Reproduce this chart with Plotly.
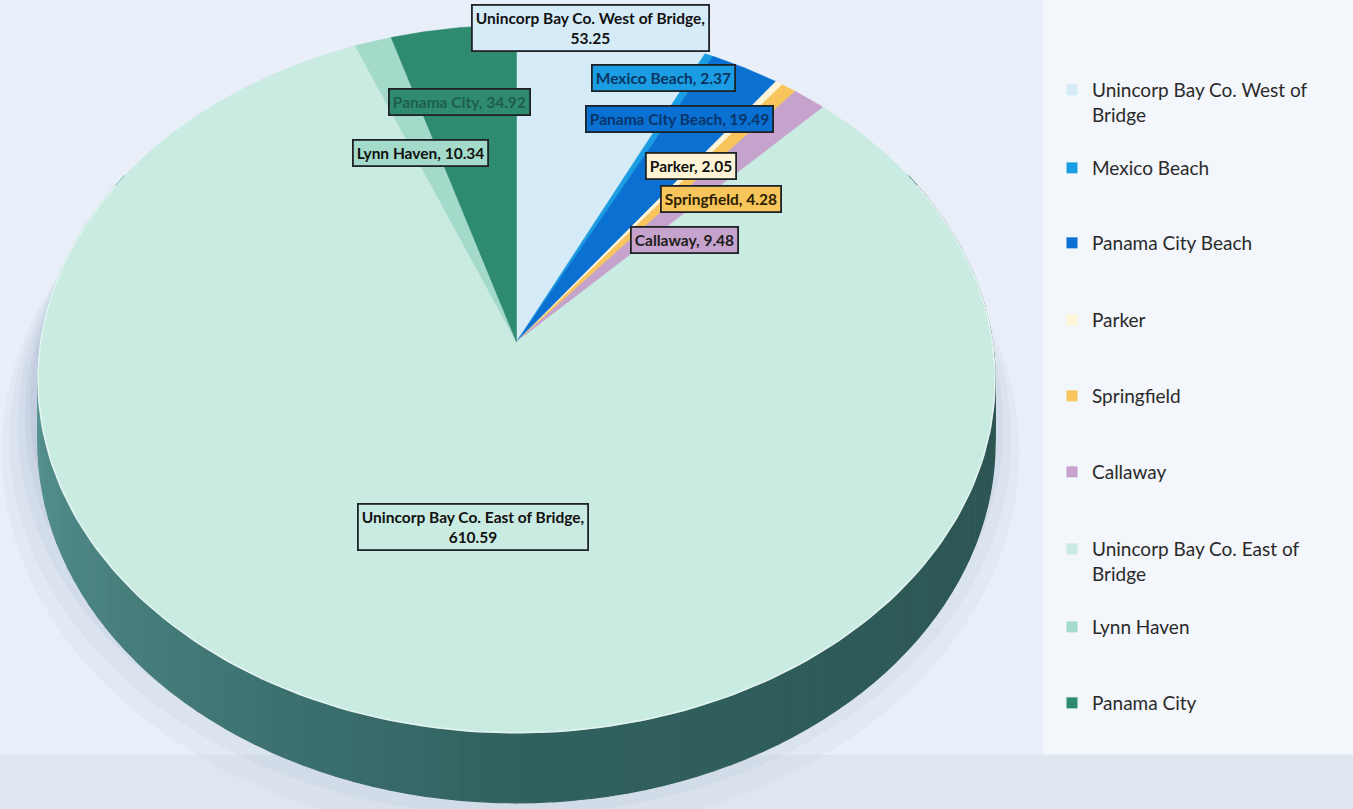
import numpy as np
import plotly.graph_objects as go

# Acreage by municipality (clockwise from 12 o'clock)
municipalities = [
    "Unincorp Bay Co. West of Bridge",
    "Mexico Beach",
    "Panama City Beach",
    "Parker",
    "Springfield",
    "Callaway",
    "Unincorp Bay Co. East of Bridge",
    "Lynn Haven",
    "Panama City",
]
acreage = [53.25, 2.37, 19.49, 2.05, 4.28, 9.48, 610.59, 10.34, 34.92]
legend_labels = [
    "Unincorp Bay Co. West of<br>Bridge",
    "Mexico Beach",
    "Panama City Beach",
    "Parker",
    "Springfield",
    "Callaway",
    "Unincorp Bay Co. East of<br>Bridge",
    "Lynn Haven",
    "Panama City",
]

slice_colors = ["#D6EBF8", "#1A9DE2", "#0A70D2", "#FFF4D6", "#F8C45C",
                "#C6A3CC", "#CAEBE1", "#A3DACA", "#2E8B70"]
label_text_colors = ["#111111", "#0A3562", "#08356A", "#111111", "#2B2100",
                     "#1E1E1E", "#111111", "#111111", "#1F5E4C"]
# label box centres in pixel space
label_anchor = [(590, 28), (663, 78), (679, 119), (691, 166), (721, 199),
                (684, 240), (473, 527), (420, 153), (459, 102)]
legend_line_y = [90, 168, 243, 320, 396, 472, 549, 627, 703]

W, H = 1353, 809
CX, CY = 516.5, 342.0      # projected pie centre
RX, RY, PERSP = 476.0, 350.0, 0.1045
DEPTH = 70.0


def project(theta_deg, drop=0.0):
    t = np.radians(theta_deg)
    X, Y = np.sin(t), -np.cos(t)
    den = 1.0 - PERSP * Y
    x = CX + RX * X / den
    y = CY + RY * Y / den + drop * (1.0 - PERSP) / den
    return x, y


fig = go.Figure()

# soft drop shadow under the pie
ang = np.linspace(0, 360, 361)
for grow, dy, alpha in [(30, 70, 0.05), (22, 58, 0.06), (14, 46, 0.07),
                        (7, 36, 0.08), (2, 28, 0.08)]:
    sx, sy = project(ang)
    sx = CX + (sx - CX) * (1 + grow / RX) - 6
    sy = CY + (sy - CY) * (1 + grow / RY) + dy
    fig.add_trace(go.Scatter(x=sx, y=sy, fill="toself", mode="none",
                             fillcolor=f"rgba(110,128,170,{alpha})",
                             hoverinfo="skip", showlegend=False))


# side wall of the pie, shaded from left (lighter) to right (darker)
def side_color(theta):
    # theta 90 = right, 180 = front, 270 = left
    s = (theta - 60) / 240.0
    c_right = np.array([0x2A, 0x4E, 0x4C])
    c_mid = np.array([0x31, 0x62, 0x60])
    c_left = np.array([0x66, 0xA8, 0xA6])
    if s < 0.5:
        c = c_right + (c_mid - c_right) * (s / 0.5)
    else:
        c = c_mid + (c_left - c_mid) * ((s - 0.5) / 0.5)
    return "rgb(%d,%d,%d)" % tuple(c.astype(int))


step = 2
for a0 in range(60, 300, step):
    seg = np.linspace(a0, a0 + step, 4)
    tx, ty = project(seg)
    bx, by = project(seg[::-1], drop=DEPTH)
    col = side_color(a0 + step / 2)
    fig.add_trace(go.Scatter(x=np.r_[tx, bx], y=np.r_[ty, by], fill="toself",
                             mode="lines", line=dict(color=col, width=1.2),
                             fillcolor=col, hoverinfo="skip", showlegend=False))

# top face wedges
total = float(np.sum(acreage))
bounds = np.r_[0.0, np.cumsum(acreage)] / total * 360.0
for i, name in enumerate(municipalities):
    a0, a1 = bounds[i], bounds[i + 1]
    n = max(int((a1 - a0) * 3), 4)
    th = np.linspace(a0, a1, n)
    rx, ry = project(th)
    fig.add_trace(go.Scatter(
        x=np.r_[CX, rx, CX], y=np.r_[CY, ry, CY], fill="toself",
        mode="lines", line=dict(color=slice_colors[i], width=0.5),
        fillcolor=slice_colors[i], name=name, showlegend=False,
        hovertemplate=f"{name}: {acreage[i]:.2f}<extra></extra>"))

# light rim along the front edge
rim = np.linspace(62, 298, 200)
rx, ry = project(rim)
fig.add_trace(go.Scatter(x=rx, y=ry, mode="lines",
                         line=dict(color="rgba(240,250,248,0.85)", width=1.5),
                         hoverinfo="skip", showlegend=False))

# legend entries (one legend per entry so each row sits at its own height)
layout_legends = {}
for i, lab in enumerate(legend_labels):
    key = "legend" if i == 0 else f"legend{i + 1}"
    fig.add_trace(go.Scatter(
        x=[None], y=[None], mode="markers", name=lab, legend=key,
        marker=dict(symbol="square", size=11, color=slice_colors[i]),
        showlegend=True))
    layout_legends[key] = dict(
        x=1052 / W, xanchor="left",
        y=1 - (legend_line_y[i] - 19) / H, yanchor="top",
        bgcolor="rgba(0,0,0,0)", borderwidth=0, valign="top",
        itemwidth=30,
        font=dict(family="Lato", size=19, color="#2A2A2A"))

# data labels
annotations = []
for i, name in enumerate(municipalities):
    sep = ",<br>" if len(name) > 20 else ", "
    ax, ay = label_anchor[i]
    annotations.append(dict(
        x=ax, y=ay, xref="x", yref="y", showarrow=False,
        text=f"<b>{name}{sep}{acreage[i]:.2f}</b>",
        font=dict(family="Lato", size=15.5, color=label_text_colors[i]),
        bgcolor=slice_colors[i], bordercolor="#1F2326", borderwidth=1.8,
        borderpad=3, align="center"))

fig.update_layout(
    width=W, height=H,
    margin=dict(l=0, r=0, t=0, b=0),
    paper_bgcolor="#E9EFF8", plot_bgcolor="#E9EFF8",
    xaxis=dict(range=[0, W], visible=False, fixedrange=True),
    yaxis=dict(range=[H, 0], visible=False, fixedrange=True),
    annotations=annotations,
    shapes=[
        dict(type="rect", xref="x", yref="y", x0=0, x1=W, y0=755, y1=H,
             fillcolor="#DFE6F0", line=dict(width=0), layer="below"),
        dict(type="rect", xref="x", yref="y", x0=1043, x1=W, y0=0, y1=754,
             fillcolor="#F3F6FB", line=dict(width=0), layer="below"),
    ],
    **layout_legends,
)

fig.write_html("out.html")
